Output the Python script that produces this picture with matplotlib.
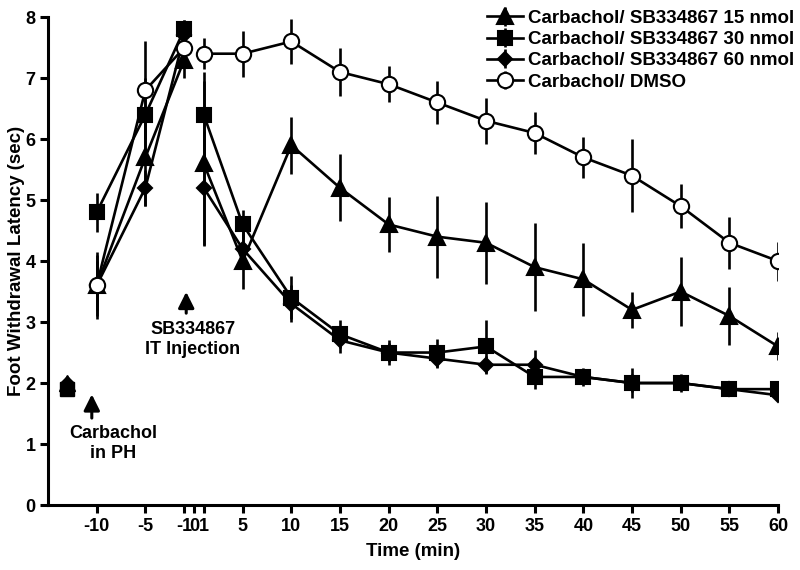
import matplotlib
matplotlib.use('Agg')
import matplotlib.pyplot as plt

plt.rcParams['font.family'] = ['Liberation Sans', 'DejaVu Sans']
plt.rcParams['font.weight'] = 'bold'

# ---- data ----
baseline_time = [-13]
pre_times = [-10, -5, -1]
post_times = [1, 5, 10, 15, 20, 25, 30, 35, 40, 45, 50, 55, 60]
x_ticks = [-10, -5, -1, 0, 1, 5, 10, 15, 20, 25, 30, 35, 40, 45, 50, 55, 60]
y_ticks = [0, 1, 2, 3, 4, 5, 6, 7, 8]

labels = ["Carbachol/ SB334867 15 nmol", "Carbachol/ SB334867 30 nmol",
          "Carbachol/ SB334867 60 nmol", "Carbachol/ DMSO"]

tri_base = [2.0]
tri_pre = [3.6, 5.7, 7.3]
tri_pre_err = [0.5, 0.8, 0.3]
tri_post = [5.6, 4.0, 5.9, 5.2, 4.6, 4.4, 4.3, 3.9, 3.7, 3.2, 3.5, 3.1, 2.6]
tri_post_err = [1.35, 0.45, 0.47, 0.55, 0.45, 0.67, 0.67, 0.72, 0.6, 0.3, 0.56, 0.47, 0.23]

sq_base = [1.9]
sq_pre = [4.8, 6.4, 7.8]
sq_pre_err = [0.32, 0.6, 0.15]
sq_post = [6.4, 4.6, 3.4, 2.8, 2.5, 2.5, 2.6, 2.1, 2.1, 2.0, 2.0, 1.9, 1.9]
sq_post_err = [0.7, 0.24, 0.35, 0.23, 0.2, 0.23, 0.43, 0.2, 0.15, 0.25, 0.15, 0.1, 0.1]

dia_base = [2.0]
dia_pre = [3.6, 5.2, 7.7]
dia_pre_err = [0.4, 0.3, 0.25]
dia_post = [5.2, 4.2, 3.3, 2.7, 2.5, 2.4, 2.3, 2.3, 2.1, 2.0, 2.0, 1.9, 1.8]
dia_post_err = [0.94, 0.3, 0.3, 0.2, 0.15, 0.15, 0.15, 0.24, 0.1, 0.15, 0.1, 0.1, 0.1]

dmso_pre = [3.6, 6.8, 7.5]
dmso_pre_err = [0.55, 0.8, 0.2]
dmso_post = [7.4, 7.4, 7.6, 7.1, 6.9, 6.6, 6.3, 6.1, 5.7, 5.4, 4.9, 4.3, 4.0]
dmso_post_err = [0.25, 0.38, 0.37, 0.4, 0.3, 0.35, 0.38, 0.35, 0.33, 0.6, 0.36, 0.43, 0.32]

fig = plt.figure(figsize=(8, 5.7), dpi=100)
ax = fig.add_axes([0.06, 0.114, 0.9125, 0.856])

LW = 1.9

def draw(base, pre, pre_err, post, post_err, marker, ms, mfc, label, z):
    kw = dict(color='black', lw=LW, elinewidth=LW, capsize=0, marker=marker,
              ms=ms, mfc=mfc, mec='black', mew=1.5, zorder=z)
    ax.errorbar(pre_times, pre, yerr=pre_err, label=label, **kw)
    ax.errorbar(post_times, post, yerr=post_err, **kw)
    if base is not None:
        ax.plot(baseline_time, base, linestyle='none', marker=marker, ms=ms,
                mfc=mfc, mec='black', color='black', zorder=z)

draw(tri_base, tri_pre, tri_pre_err, tri_post, tri_post_err, '^', 11, 'black', labels[0], 3)
draw(sq_base, sq_pre, sq_pre_err, sq_post, sq_post_err, 's', 10, 'black', labels[1], 4)
draw(dia_base, dia_pre, dia_pre_err, dia_post, dia_post_err, 'D', 7, 'black', labels[2], 5)
draw(None, dmso_pre, dmso_pre_err, dmso_post, dmso_post_err, 'o', 11, 'white', labels[3], 6)

ax.set_xlim(-15, 60)
ax.set_ylim(0, 8)
ax.set_xticks(x_ticks)
ax.set_xticklabels([str(t) for t in x_ticks])
ax.set_yticks(y_ticks)
for s in ['top', 'right']:
    ax.spines[s].set_visible(False)
for s in ['left', 'bottom']:
    ax.spines[s].set_linewidth(2.2)
ax.tick_params(axis='both', direction='out', length=6, width=2.2, labelsize=13, pad=3)
for lab in ax.get_xticklabels() + ax.get_yticklabels():
    lab.set_fontweight('bold')

ax.set_xlabel("Time (min)", fontsize=13.5, fontweight='bold', labelpad=6)
ax.set_ylabel("Foot Withdrawal Latency (sec)", fontsize=13.5, fontweight='bold')
ax.yaxis.set_label_coords(-0.031, 0.5)

# annotations
arrow_kw = dict(arrowstyle='-|>', mutation_scale=24, lw=2.2, color='black')
ax.annotate("", xy=(-10.5, 1.86), xytext=(-10.5, 1.38), arrowprops=arrow_kw)
ax.text(-8.3, 1.01, "Carbachol\nin PH", ha='center', va='center', fontsize=13,
        fontweight='bold', linespacing=1.25)
ax.annotate("", xy=(-0.8, 3.54), xytext=(-0.8, 3.1), arrowprops=arrow_kw)
ax.text(-0.1, 2.72, "SB334867\nIT Injection", ha='center', va='center', fontsize=13,
        fontweight='bold', linespacing=1.25)

leg = fig.legend(handles=ax.get_legend_handles_labels()[0],
                 labels=ax.get_legend_handles_labels()[1],
                 loc='upper right', bbox_to_anchor=(0.993, 0.983), frameon=False,
                 fontsize=13.5, handlelength=1.9, handletextpad=0.3,
                 labelspacing=0.22, borderaxespad=0, borderpad=0)
for t in leg.get_texts():
    t.set_fontweight('bold')

fig.savefig("out.png", dpi=100)
